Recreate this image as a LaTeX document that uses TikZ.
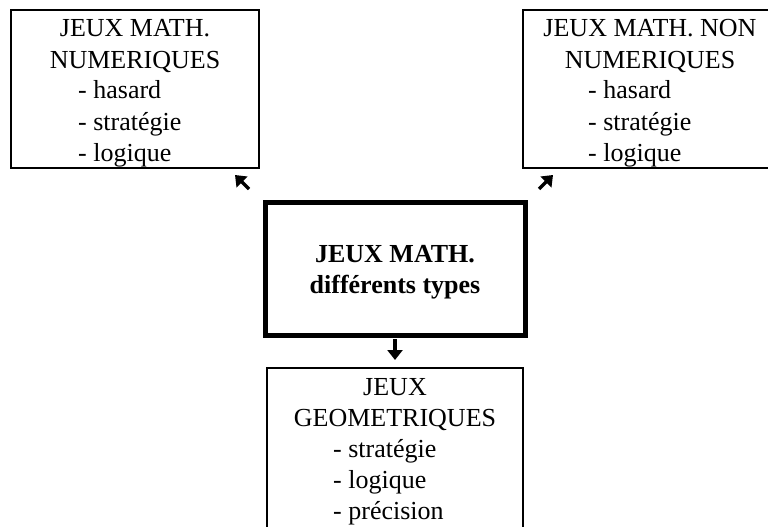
\documentclass[tikz,border=0pt]{standalone}
\usepackage{fontspec}
\setmainfont{Liberation Serif}
\usetikzlibrary{arrows.meta}
\tikzset{
  thinbox/.style={draw=black, line width=2pt, inner sep=0pt},
  thickbox/.style={draw=black, line width=5pt, inner sep=0pt},
  ttl/.style={anchor=base, inner sep=0pt, font=\fontsize{26}{31}\selectfont},
  itm/.style={anchor=base west, inner sep=0pt, font=\fontsize{26}{31}\selectfont},
  btl/.style={anchor=base, inner sep=0pt, font=\fontsize{26}{31}\selectfont\bfseries},
  arr/.style={line width=3.5pt, -{Triangle[length=10pt,width=15pt]}}
}
\begin{document}
\begin{tikzpicture}[x=1pt,y=-1pt]
\useasboundingbox (0,0) rectangle (768,527);
\fill[white] (0,0) rectangle (768,527);
\begin{scope}
\clip (0,0) rectangle (768,527);
% boxes
\draw[thinbox] (11,10) rectangle (259,168);
\coordinate (numbox) at (135,89);
\draw[thinbox] (523,10) rectangle (779,168);
\coordinate (nonbox) at (651,89);
\draw[thickbox] (265,202) rectangle (525,335);
\coordinate (center) at (395,268);
\draw[thinbox] (267,368) rectangle (523,545);
\coordinate (geobox) at (395,450);
\end{scope}
% top-left text
\node[ttl] (n1) at (135,37) {JEUX MATH.};
\node[ttl] (n2) at (135,68) {NUMERIQUES};
\node[itm] (n3) at (78,99) {- hasard};
\node[itm] (n4) at (78,130) {- stratégie};
\node[itm] (n5) at (78,161) {- logique};
% top-right text
\node[ttl] (m1) at (650,37) {JEUX MATH. NON};
\node[ttl] (m2) at (650,68) {NUMERIQUES};
\node[itm] (m3) at (588,99) {- hasard};
\node[itm] (m4) at (588,130) {- stratégie};
\node[itm] (m5) at (588,161) {- logique};
% center text
\node[btl] (c1) at (395,262) {JEUX MATH.};
\node[btl] (c2) at (395,293) {différents types};
% bottom text
\node[ttl] (g1) at (395,395) {JEUX};
\node[ttl] (g2) at (395,426) {GEOMETRIQUES};
\node[itm] (g3) at (333,457) {- stratégie};
\node[itm] (g4) at (333,488) {- logique};
\node[itm] (g5) at (333,519) {- précision};
% arrows
\coordinate (a1s) at (249,189);
\coordinate (a1e) at (235,175);
\coordinate (a2s) at (539,189);
\coordinate (a2e) at (553,175);
\coordinate (a3s) at (395,339);
\coordinate (a3e) at (395,360);
\draw[arr] (a1s) -- (a1e);
\draw[arr] (a2s) -- (a2e);
\draw[arr] (a3s) -- (a3e);
\end{tikzpicture}
\end{document}
